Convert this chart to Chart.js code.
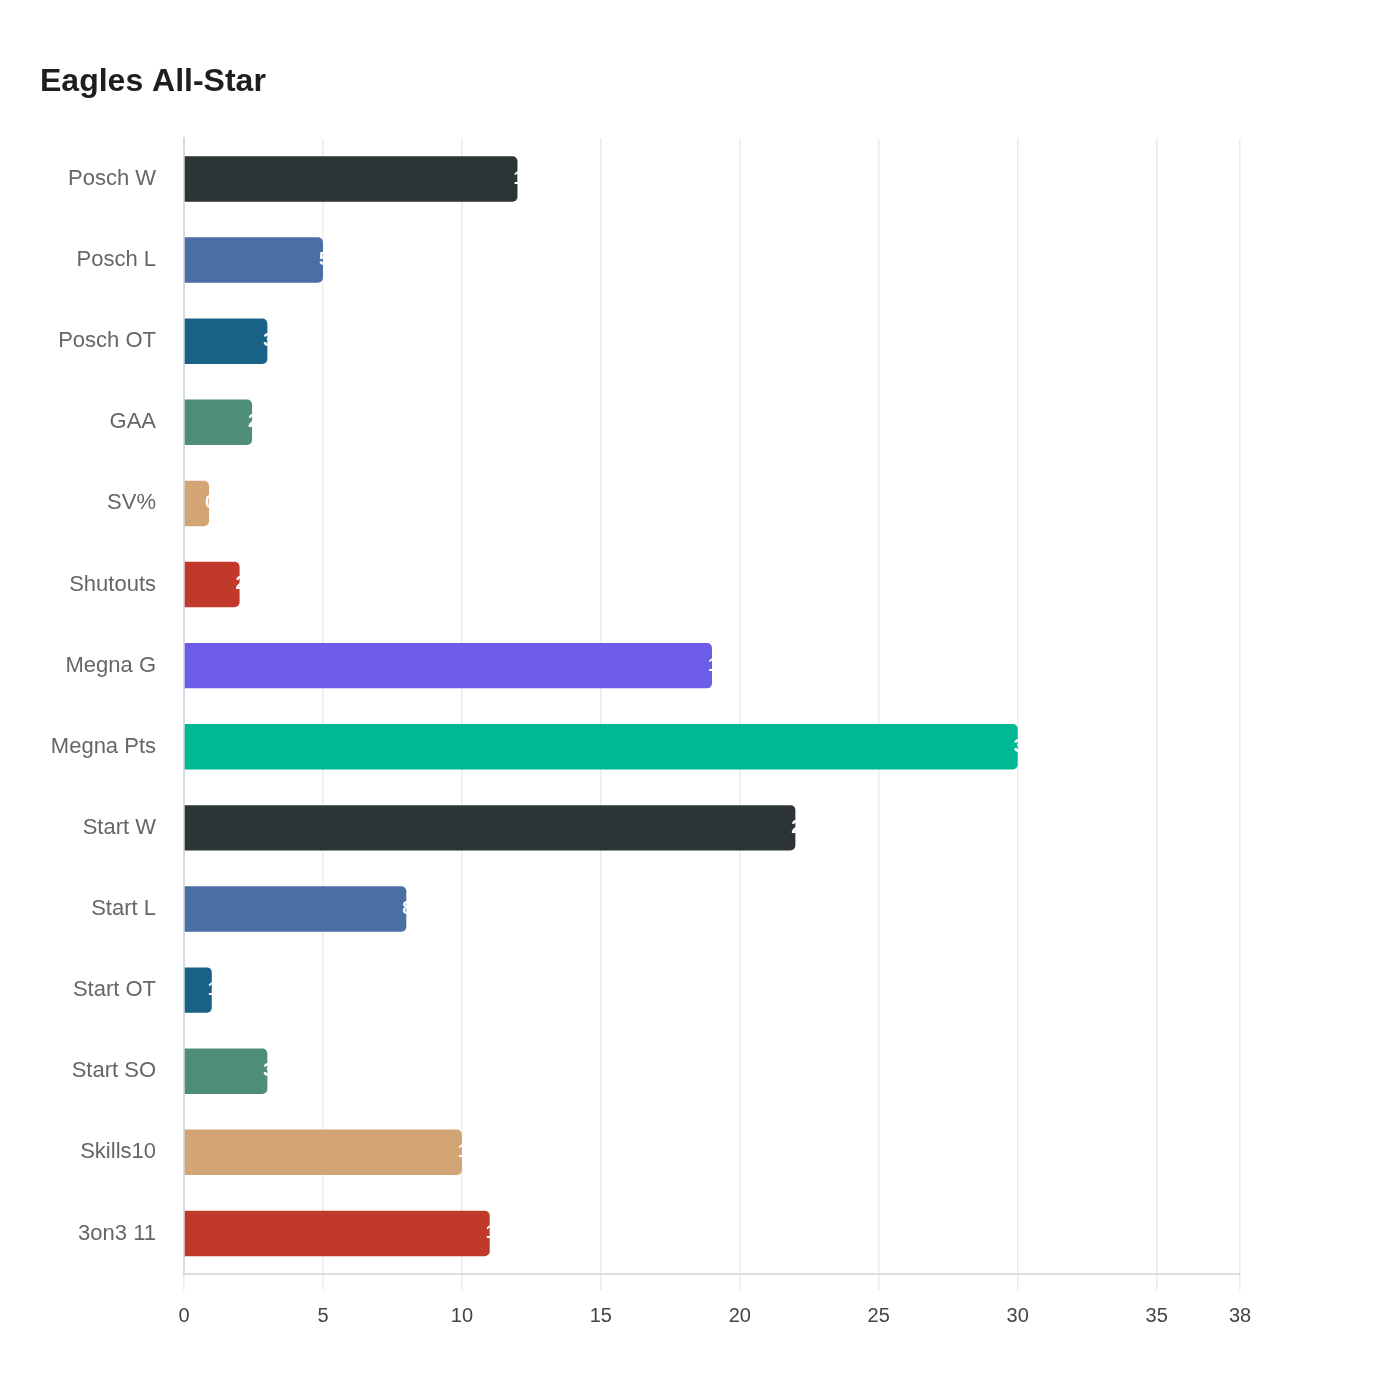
<!DOCTYPE html>
<html>
<head>
<meta charset="utf-8">
<title>Eagles All-Star</title>
<script src="https://cdn.jsdelivr.net/npm/chart.js@4.4.0/dist/chart.umd.min.js"></script>
<style>
  body { margin: 0; background: #fff; }
  #wrap { width: 1400px; height: 1400px; }
</style>
</head>
<body>
<div id="wrap"><canvas id="myChart"></canvas></div>
<script>
// data
const categorias = ['Posch W', 'Posch L', 'Posch OT', 'GAA', 'SV%', 'Shutouts', 'Megna G',
    'Megna Pts', 'Start W', 'Start L', 'Start OT', 'Start SO', 'Skills10', '3on3 11'];
const valores = [12, 5, 3, 2.45, 0.9, 2, 19, 30, 22, 8, 1, 3, 10, 11];
const paleta = ['#2d3436', '#4a6fa5', '#1a6187', '#4f8c7a', '#d4a574', '#c0392b', '#6c5ce7', '#00b894'];
const colores = categorias.map((c, i) => paleta[i % paleta.length]);
const ejeMax = 38;

// white value labels placed at the bar tips (only the part over the bar shows)
const etiquetas = {
    id: 'etiquetas',
    afterDatasetsDraw(chart) {
        const ctx = chart.ctx;
        const meta = chart.getDatasetMeta(0);
        ctx.save();
        ctx.font = 'bold 18px "Liberation Sans", Arial, sans-serif';
        ctx.fillStyle = '#ffffff';
        ctx.textAlign = 'left';
        ctx.textBaseline = 'middle';
        meta.data.forEach((bar, i) => {
            ctx.fillText(String(valores[i]), bar.x - 4, bar.y);
        });
        ctx.restore();
    }
};

const ctx = document.getElementById('myChart').getContext('2d');
const myChart = new Chart(ctx, {
    type: 'bar',
    data: {
        labels: categorias,
        datasets: [{
            label: 'Eagles All-Star',
            data: valores,
            backgroundColor: colores,
            borderColor: colores,
            borderWidth: 0,
            borderRadius: 5,
            borderSkipped: 'start',
            categoryPercentage: 0.8,
            barPercentage: 0.7
        }]
    },
    options: {
        indexAxis: 'y',
        responsive: true,
        maintainAspectRatio: false,
        animation: false,
        layout: {
            padding: { left: 40, right: 160, top: 40, bottom: 60 }
        },
        plugins: {
            legend: { display: false },
            tooltip: { enabled: false },
            title: {
                display: true,
                text: 'Eagles All-Star',
                align: 'start',
                color: '#1e1e1e',
                font: { family: '"Liberation Sans", Arial, sans-serif', size: 32, weight: 'bold' },
                padding: { top: 23, bottom: 37 }
            }
        },
        scales: {
            x: {
                min: 0,
                max: ejeMax,
                ticks: {
                    stepSize: 5,
                    color: '#444',
                    padding: 14,
                    font: { family: '"Liberation Sans", Arial, sans-serif', size: 20 }
                },
                grid: {
                    color: '#ebebeb',
                    lineWidth: 1.5,
                    drawTicks: true,
                    tickLength: 16
                },
                border: { display: true, color: '#dedede', width: 2 },
                afterFit(scale) { scale.height = 66; }
            },
            y: {
                ticks: {
                    color: '#666',
                    padding: 20,
                    font: { family: '"Liberation Sans", Arial, sans-serif', size: 22 }
                },
                grid: { display: false },
                border: { display: true, color: '#d2dadf', width: 2 },
                afterFit(scale) { scale.width = 144; }
            }
        }
    },
    plugins: [etiquetas]
});
</script>
</body>
</html>
